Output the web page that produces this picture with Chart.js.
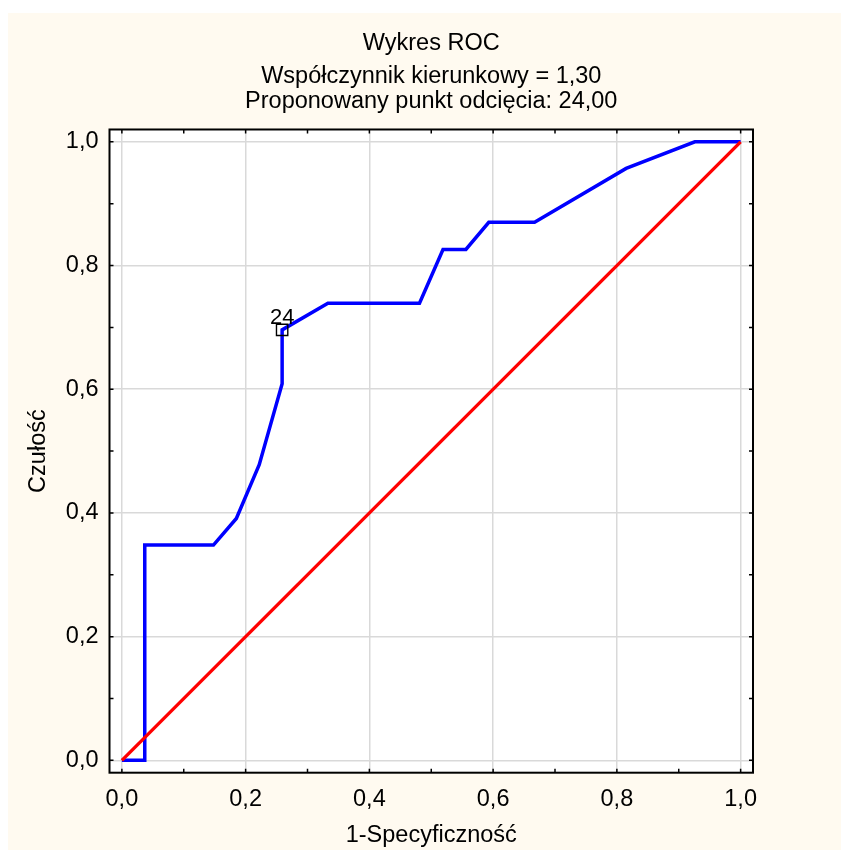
<!DOCTYPE html>
<html lang="pl">
<head>
<meta charset="utf-8">
<title>Wykres ROC</title>
<script src="https://cdn.jsdelivr.net/npm/chart.js@4.4.1/dist/chart.umd.min.js"></script>
<style>
  html, body { margin: 0; padding: 0; background: #ffffff; }
  #box { position: absolute; left: 8px; top: 13px; width: 833px; height: 837px; background: #fffaf0; }
</style>
</head>
<body>
<div id="box"><canvas id="rocChart"></canvas></div>
<script>
// krzywa ROC - wartosci
const rocX = [0, 0.037, 0.037, 0.148, 0.185, 0.222, 0.259, 0.259, 0.333, 0.481, 0.519, 0.556, 0.593, 0.667, 0.815, 0.926, 1.0];
const rocY = [0, 0, 0.348, 0.348, 0.391, 0.478, 0.609, 0.696, 0.739, 0.739, 0.826, 0.826, 0.870, 0.870, 0.957, 1.0, 1.0];

// linia odniesienia
const refX = [0, 1];
const refY = [0, 1];

// punkt odciecia
const cutX = [0.259];
const cutY = [0.696];
const cutLabel = ['24'];

const tickValues = [0, 0.2, 0.4, 0.6, 0.8, 1.0];
const minorTicks = [0, 0.1, 0.2, 0.3, 0.4, 0.5, 0.6, 0.7, 0.8, 0.9, 1.0];

const titleText = 'Wykres ROC';
const subtitleLines = ['Współczynnik kierunkowy = 1,30', 'Proponowany punkt odcięcia: 24,00'];
const xTitle = '1-Specyficzność';
const yTitle = 'Czułość';

const FONT = 'Arial, "Liberation Sans", sans-serif';
Chart.defaults.font.family = FONT;
Chart.defaults.color = '#000';

function fmt(v) {
    return v.toFixed(1).replace('.', ',');
}

function toPoints(xs, ys) {
    return xs.map((x, i) => ({ x: x, y: ys[i] }));
}

// tlo, ramka, male znaczniki i etykieta punktu
const plotFrame = {
    id: 'plotFrame',
    beforeDraw(chart) {
        const { ctx, chartArea: a } = chart;
        ctx.save();
        ctx.fillStyle = '#ffffff';
        ctx.fillRect(a.left, a.top, a.right - a.left, a.bottom - a.top);
        ctx.restore();
    },
    afterDraw(chart) {
        const { ctx, chartArea: a, scales } = chart;
        ctx.save();
        ctx.strokeStyle = '#000';
        ctx.lineWidth = 1.5;
        ctx.beginPath();
        minorTicks.forEach(v => {
            const px = scales.x.getPixelForValue(v);
            ctx.moveTo(px, a.bottom); ctx.lineTo(px, a.bottom - 4);
            ctx.moveTo(px, a.top); ctx.lineTo(px, a.top + 4);
            const py = scales.y.getPixelForValue(v);
            ctx.moveTo(a.left, py); ctx.lineTo(a.left + 4, py);
            ctx.moveTo(a.right, py); ctx.lineTo(a.right - 4, py);
        });
        ctx.stroke();
        ctx.lineWidth = 2;
        ctx.strokeRect(a.left, a.top, a.right - a.left, a.bottom - a.top);

        ctx.font = '22px ' + FONT;
        ctx.fillStyle = '#000';
        ctx.textAlign = 'center';
        ctx.textBaseline = 'alphabetic';
        cutX.forEach((x, i) => {
            const px = scales.x.getPixelForValue(x);
            const py = scales.y.getPixelForValue(cutY[i]);
            ctx.fillText(cutLabel[i], px, py - 6);
        });
        ctx.restore();
    }
};

const ctx = document.getElementById('rocChart').getContext('2d');
const myChart = new Chart(ctx, {
    type: 'scatter',
    data: {
        datasets: [
            {
                label: 'ROC',
                data: toPoints(rocX, rocY),
                showLine: true,
                borderColor: '#0000ff',
                borderWidth: 3.5,
                pointRadius: 0,
                tension: 0,
                order: 2
            },
            {
                label: 'Linia odniesienia',
                data: toPoints(refX, refY),
                showLine: true,
                borderColor: '#ff0000',
                borderWidth: 3.3,
                pointRadius: 0,
                order: 1
            },
            {
                label: 'Punkt odcięcia',
                data: toPoints(cutX, cutY),
                showLine: false,
                pointStyle: 'rect',
                pointRadius: 8,
                borderColor: '#000',
                borderWidth: 1.4,
                backgroundColor: 'rgba(0,0,0,0)',
                order: 0
            }
        ]
    },
    options: {
        responsive: true,
        maintainAspectRatio: false,
        animation: false,
        layout: { padding: { left: 0, right: 88, top: 0, bottom: 0 } },
        plugins: {
            legend: { display: false },
            tooltip: { enabled: false },
            title: {
                display: true,
                text: titleText,
                fullSize: false,
                color: '#000',
                font: { size: 23.5, weight: 'normal' },
                padding: { top: 16, bottom: 7 }
            },
            subtitle: {
                display: true,
                text: subtitleLines,
                fullSize: false,
                color: '#000',
                font: { size: 23.5, lineHeight: 1.07 },
                padding: { top: 0, bottom: 15 }
            }
        },
        scales: {
            x: {
                type: 'linear',
                min: -0.02,
                max: 1.02,
                afterBuildTicks: s => { s.ticks = tickValues.map(v => ({ value: v })); },
                afterFit: s => { s.height = 77.3; },
                grid: { color: '#d9d9d9', lineWidth: 1.5, drawTicks: false },
                border: { display: false },
                ticks: { padding: 13, font: { size: 23.5 }, maxRotation: 0, autoSkip: false, callback: v => fmt(v) },
                title: { display: true, text: xTitle, font: { size: 23.5 }, padding: { top: 0, bottom: 0 } }
            },
            y: {
                type: 'linear',
                min: -0.02,
                max: 1.02,
                afterBuildTicks: s => { s.ticks = tickValues.map(v => ({ value: v })); },
                afterFit: s => { s.width = 101.5; },
                grid: { color: '#d9d9d9', lineWidth: 1.5, drawTicks: false },
                border: { display: false },
                ticks: { padding: 11, font: { size: 23.5 }, autoSkip: false, callback: v => fmt(v) },
                title: { display: true, text: yTitle, font: { size: 23.5 }, padding: { top: 16, bottom: 0 } }
            }
        }
    },
    plugins: [plotFrame]
});
</script>
</body>
</html>
